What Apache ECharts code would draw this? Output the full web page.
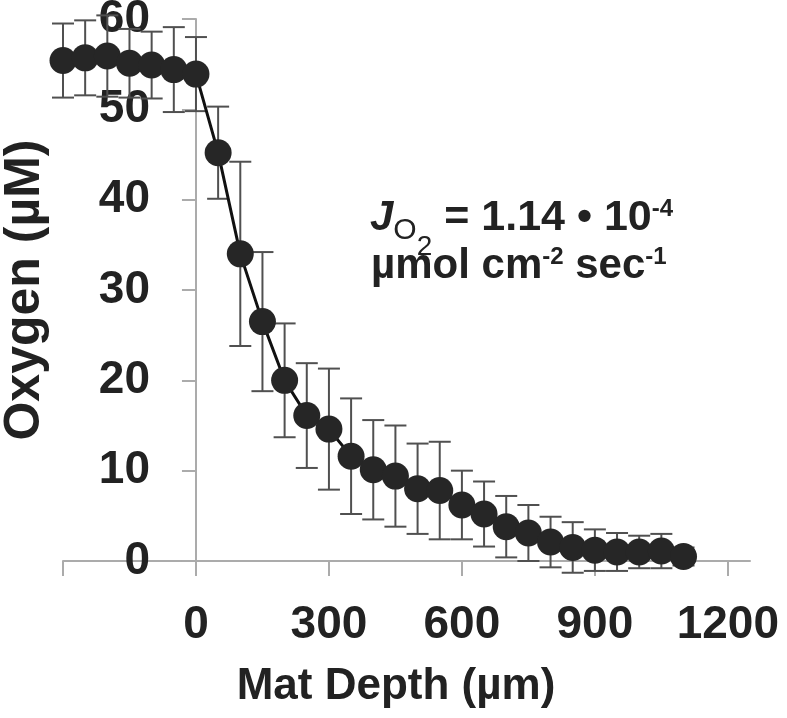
<!DOCTYPE html>
<html>
<head>
<meta charset="utf-8">
<script src="https://cdn.jsdelivr.net/npm/echarts@6/dist/echarts.min.js"></script>
<style>
  html, body { margin: 0; padding: 0; background: #fff; }
  #chart { width: 787px; height: 718px; }
</style>
</head>
<body>
<div id="chart"></div>
<script>
// mat depth (µm), mean oxygen (µM) and its error (±)
const depth = [-300, -250, -200, -150, -100, -50, 0, 50, 100, 150, 200, 250, 300, 350, 400,
  450, 500, 550, 600, 650, 700, 750, 800, 850, 900, 950, 1000, 1050, 1100];
const oxygen = [55.4, 55.7, 55.9, 55.1, 54.9, 54.4, 53.9, 45.2, 34.0, 26.5, 20.0, 16.1, 14.6, 11.6, 10.1,
  9.4, 8.0, 7.8, 6.2, 5.2, 3.8, 3.1, 2.1, 1.5, 1.2, 1.0, 1.0, 1.1, 0.5];
const oxygenErr = [4.1, 4.15, 4.5, 3.8, 3.7, 4.7, 4.1, 5.1, 10.2, 7.7, 6.3, 5.8, 6.7, 6.4, 5.5,
  5.6, 5.0, 5.4, 3.8, 3.6, 3.4, 3.1, 2.8, 2.8, 2.3, 2.1, 1.8, 1.9, 1.0];
const xTicks = [-300, 0, 300, 600, 900, 1200];
const xLabels = [0, 300, 600, 900, 1200];

const font = "'Liberation Sans', Arial, sans-serif";
const axisGray = '#ababab';
const textColor = '#222';

const chart = echarts.init(document.getElementById('chart'));

const points = depth.map((d, i) => [d, oxygen[i]]);
const bars = depth.map((d, i) => [d, oxygen[i] + oxygenErr[i], oxygen[i] - oxygenErr[i]]);

const option = {
  animation: false,
  backgroundColor: '#fff',
  grid: { left: 63, right: 37, top: 19, bottom: 157, containLabel: false, outerBoundsMode: 'none' },
  xAxis: {
    type: 'value',
    min: -300,
    max: 1250,
    interval: 300,
    name: 'Mat Depth (µm)',
    nameLocation: 'middle',
    nameGap: 104,
    nameTextStyle: { fontFamily: font, fontSize: 44, fontWeight: 'bold', color: textColor, padding: [0, 21, 0, 0] },
    axisLine: { lineStyle: { color: axisGray, width: 2 } },
    axisTick: { show: true, length: 15, customValues: xTicks, lineStyle: { color: axisGray, width: 2 } },
    axisLabel: {
      customValues: xLabels,
      formatter: v => String(v),
      margin: 41,
      fontFamily: font, fontSize: 46, fontWeight: 'bold', color: textColor
    },
    splitLine: { show: false }
  },
  yAxis: {
    type: 'value',
    min: 0,
    max: 60,
    interval: 10,
    name: 'Oxygen (µM)',
    nameLocation: 'middle',
    nameGap: 13,
    nameMoveOverlap: false,
    nameTextStyle: { fontFamily: font, fontSize: 50, fontWeight: 'bold', color: textColor },
    axisLine: { show: true, onZero: true, lineStyle: { color: axisGray, width: 2 } },
    axisTick: { show: true, length: 14, lineStyle: { color: axisGray, width: 2 } },
    axisLabel: { margin: -87, fontFamily: font, fontSize: 46, fontWeight: 'bold', color: textColor },
    splitLine: { show: false }
  },
  graphic: [
    {
      type: 'text',
      x: 370,
      y: 218,
      z: 100,
      style: {
        text: '{j|J}{o|O}{two|2}{b| = 1.14 • 10}{sup|-4}',
        verticalAlign: 'middle',
        fill: textColor,
        rich: {
          j: { fontFamily: font, fontSize: 42, fontWeight: 'bold', fontStyle: 'italic', verticalAlign: 'middle' },
          o: { fontFamily: font, fontSize: 30, verticalAlign: 'middle', padding: [26, 0, 0, 0] },
          two: { fontFamily: font, fontSize: 28, verticalAlign: 'middle', padding: [58, 0, 0, 0] },
          b: { fontFamily: font, fontSize: 43, fontWeight: 'bold', verticalAlign: 'middle' },
          sup: { fontFamily: font, fontSize: 24, fontWeight: 'bold', verticalAlign: 'middle', padding: [0, 0, 18, 0] }
        }
      }
    },
    {
      type: 'text',
      x: 371,
      y: 266,
      z: 100,
      style: {
        text: '{b|µmol cm}{sup|-2}{b| sec}{sup|-1}',
        verticalAlign: 'middle',
        fill: textColor,
        rich: {
          b: { fontFamily: font, fontSize: 42, fontWeight: 'bold', verticalAlign: 'middle' },
          sup: { fontFamily: font, fontSize: 24, fontWeight: 'bold', verticalAlign: 'middle', padding: [0, 0, 18, 0] }
        }
      }
    }
  ],
  series: [
    {
      type: 'custom',
      name: 'error',
      z: 1,
      data: bars,
      renderItem: function (params, api) {
        const x = api.value(0);
        const top = api.coord([x, api.value(1)]);
        const bot = api.coord([x, api.value(2)]);
        const w = 11;
        const style = { stroke: '#505050', lineWidth: 2 };
        return {
          type: 'group',
          children: [
            { type: 'line', shape: { x1: top[0], y1: top[1], x2: bot[0], y2: bot[1] }, style: style },
            { type: 'line', shape: { x1: top[0] - w, y1: top[1], x2: top[0] + w, y2: top[1] }, style: style },
            { type: 'line', shape: { x1: bot[0] - w, y1: bot[1], x2: bot[0] + w, y2: bot[1] }, style: style }
          ]
        };
      }
    },
    {
      type: 'line',
      name: 'oxygen',
      z: 2,
      data: points,
      symbol: 'circle',
      symbolSize: 27,
      lineStyle: { color: '#111', width: 3 },
      itemStyle: { color: '#262626', borderWidth: 0 }
    }
  ]
};

chart.setOption(option);
</script>
</body>
</html>
